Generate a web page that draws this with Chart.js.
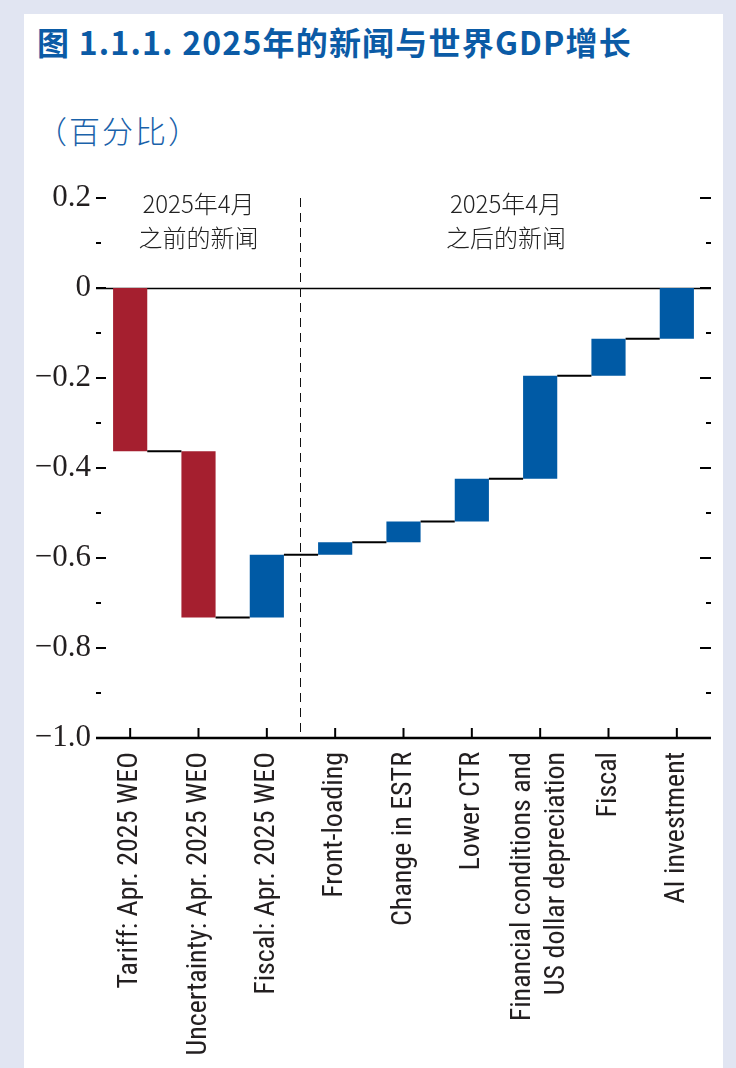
<!DOCTYPE html>
<html><head><meta charset="utf-8">
<script src="https://cdn.jsdelivr.net/npm/chart.js@4.4.1/dist/chart.umd.min.js"></script>
<style>
html,body{margin:0;padding:0;background:#e1e5f2;width:736px;height:1068px;overflow:hidden;}
#card{position:absolute;left:24px;top:14px;width:699px;height:1054px;background:#fff;}
#title{position:absolute;left:37px;top:20px;font-family:'Noto Sans CJK SC';font-weight:700;font-size:32px;letter-spacing:1.2px;color:#0b5ba6;white-space:nowrap;line-height:42px;}
#sub{position:absolute;left:36px;top:108px;font-family:'Noto Sans CJK SC';font-weight:300;font-size:31px;letter-spacing:2px;color:#1a62aa;white-space:nowrap;line-height:44px;}
#wrap{position:absolute;left:0;top:0;width:736px;height:1068px;}
</style></head><body>
<div id="card"></div>
<div id="title">图 1.1.1. 2025年的新闻与世界GDP增长</div>
<div id="sub">（百分比）</div>
<div id="wrap"><canvas id="c" width="736" height="1068"></canvas></div>
<script>
const categories = [
  'Tariff: Apr. 2025 WEO',
  'Uncertainty: Apr. 2025 WEO',
  'Fiscal: Apr. 2025 WEO',
  'Front-loading',
  'Change in ESTR',
  'Lower CTR',
  ['Financial conditions and', 'US dollar depreciation'],
  'Fiscal',
  'AI investment'
];
// cumulative level reached after each step (percent)
const cumulativeEnds = [-0.363, -0.732, -0.593, -0.565, -0.519, -0.424, -0.195, -0.113, 0];
const barColors = ['#a51f2f', '#a51f2f', '#005aa5', '#005aa5', '#005aa5', '#005aa5', '#005aa5', '#005aa5', '#005aa5'];
const yTicks = [0.2, 0, -0.2, -0.4, -0.6, -0.8, -1.0];
const yTickLabels = ['0.2', '0', '\u22120.2', '\u22120.4', '\u22120.6', '\u22120.8', '\u22121.0'];
const yMinorTicks = [0.1, -0.1, -0.3, -0.5, -0.7, -0.9];
const periodLabels = [['2025年4月', '之前的新闻'], ['2025年4月', '之后的新闻']];

const floatingBars = cumulativeEnds.map((e, i) => [i === 0 ? 0 : cumulativeEnds[i - 1], e]);

const decor = {
  id: 'decor',
  beforeDraw(chart) {
    const x = chart.scales.x;
    const items = x.getLabelItems();
    items.forEach(it => {
      if (Array.isArray(it.label) && it.label.length > 1 && !it._shifted) {
        const lh = it.font.lineHeight;
        it.options.translation[0] -= lh * (it.label.length - 1) / 2;
        it._shifted = true;
      }
    });
  },
  beforeDatasetsDraw(chart) {
    const {ctx, chartArea: a, scales: {x, y}} = chart;
    ctx.save();
    const y0 = Math.round(y.getPixelForValue(0)) + 0.5;
    ctx.strokeStyle = '#000'; ctx.lineWidth = 1.3;
    ctx.beginPath(); ctx.moveTo(a.left, y0); ctx.lineTo(a.right, y0); ctx.stroke();
    const xd = Math.round((x.getPixelForValue(2) + x.getPixelForValue(3)) / 2) - 0.5;
    ctx.setLineDash([9, 6]); ctx.lineWidth = 1; ctx.strokeStyle = '#111';
    ctx.beginPath(); ctx.moveTo(xd, a.top); ctx.lineTo(xd, a.bottom); ctx.stroke();
    ctx.restore();
  },
  afterDatasetsDraw(chart) {
    const {ctx, chartArea: a, scales: {x, y}} = chart;
    const meta = chart.getDatasetMeta(0);
    ctx.save();
    ctx.strokeStyle = '#000';
    ctx.lineWidth = 2;
    for (let i = 0; i < meta.data.length - 1; i++) {
      const b = meta.data[i], n = meta.data[i + 1];
      const yy = y.getPixelForValue(cumulativeEnds[i]);
      ctx.beginPath(); ctx.moveTo(b.x + b.width / 2, yy); ctx.lineTo(n.x - n.width / 2, yy); ctx.stroke();
    }
    ctx.lineWidth = 2.5;
    ctx.beginPath(); ctx.moveTo(a.left, a.bottom); ctx.lineTo(a.right, a.bottom); ctx.stroke();
    ctx.lineWidth = 2;
    categories.forEach((c, i) => {
      const xx = x.getPixelForValue(i);
      ctx.beginPath(); ctx.moveTo(xx, a.bottom); ctx.lineTo(xx, a.bottom - 10); ctx.stroke();
    });
    yTicks.forEach(v => {
      if (v === -1.0) return;
      const yy = y.getPixelForValue(v);
      ctx.beginPath(); ctx.moveTo(a.left, yy); ctx.lineTo(a.left + 10, yy); ctx.stroke();
      ctx.beginPath(); ctx.moveTo(a.right - 11, yy); ctx.lineTo(a.right, yy); ctx.stroke();
    });
    yMinorTicks.forEach(v => {
      const yy = y.getPixelForValue(v);
      ctx.beginPath(); ctx.moveTo(a.left, yy); ctx.lineTo(a.left + 5, yy); ctx.stroke();
      ctx.beginPath(); ctx.moveTo(a.right - 5, yy); ctx.lineTo(a.right, yy); ctx.stroke();
    });
    const xd = (x.getPixelForValue(2) + x.getPixelForValue(3)) / 2;
    const centers = [(a.left + xd) / 2, (xd + a.right) / 2];
    ctx.fillStyle = '#222';
    ctx.font = '300 24px "Noto Sans CJK SC"';
    ctx.textAlign = 'center'; ctx.textBaseline = 'middle';
    periodLabels.forEach((lines, k) => {
      lines.forEach((t, j) => ctx.fillText(t, centers[k], a.top + 6 + j * 34));
    });
    ctx.restore();
  }
};

new Chart(document.getElementById('c'), {
  type: 'bar',
  data: {
    labels: categories,
    datasets: [{
      data: floatingBars,
      backgroundColor: barColors,
      borderWidth: 0,
      barPercentage: 0.5,
      categoryPercentage: 1.0
    }]
  },
  options: {
    responsive: false,
    animation: false,
    layout: {padding: {left: 0, right: 25, top: 198, bottom: 0}},
    plugins: {legend: {display: false}, tooltip: {enabled: false}, title: {display: false}},
    scales: {
      x: {
        type: 'category',
        grid: {display: false, drawTicks: false},
        border: {display: false},
        ticks: {
          autoSkip: false, minRotation: 90, maxRotation: 90, padding: 14,
          color: '#231f20',
          font: {family: '"Liberation Sans Narrow", "Roboto Condensed", Roboto, sans-serif', size: 28}
        },
        afterFit(s) { s.height = 330; }
      },
      y: {
        min: -1.0, max: 0.2,
        grid: {display: false, drawTicks: false},
        border: {display: false},
        afterBuildTicks(s) { s.ticks = yTicks.map(v => ({value: v})); },
        ticks: {
          padding: 5,
          color: '#231f20',
          font: {family: '"Liberation Serif", "DejaVu Serif", serif', size: 31},
          callback(v) { const i = yTicks.indexOf(v); return i >= 0 ? yTickLabels[i] : ''; }
        },
        afterFit(s) { s.width = 96; }
      }
    }
  },
  plugins: [decor]
});
</script>
</body></html>
